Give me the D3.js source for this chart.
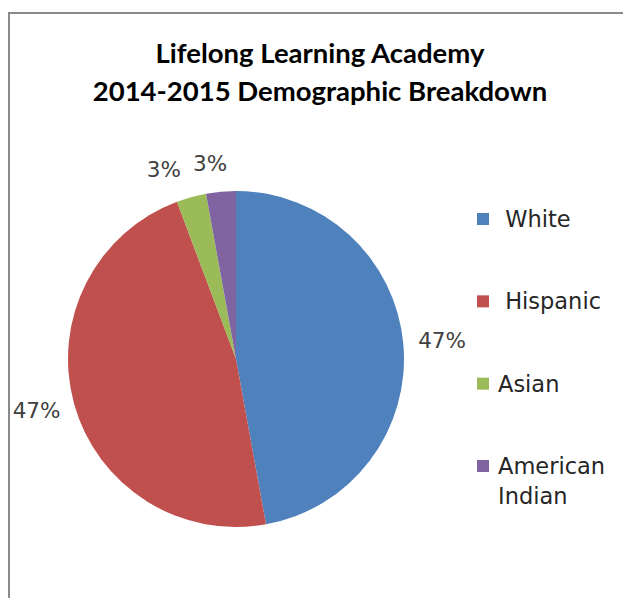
<!DOCTYPE html>
<html><head><meta charset="utf-8">
<script src="https://cdn.jsdelivr.net/npm/d3@7"></script>
<style>html,body{margin:0;padding:0;background:#fff;overflow:hidden}</style>
</head><body>
<svg id="c" width="623" height="598"></svg>
<script>
const titleLines = ["Lifelong Learning Academy", "2014-2015 Demographic Breakdown"];
const categories = [" White", " Hispanic", "Asian", "American Indian"];
const counts = [33, 33, 2, 2];
const colors = ["#4F81BD", "#C0504D", "#9BBB59", "#8064A2"];

const svg = d3.select("#c");
// chart frame
svg.append("rect").attr("x", 9).attr("y", 13).attr("width", 640).attr("height", 620)
  .attr("fill", "#fff").attr("stroke", "#8a8a8a").attr("stroke-width", 2);

// title
const title = svg.append("text").attr("text-anchor", "middle")
  .attr("font-family", "Lato, sans-serif").attr("font-weight", "bold")
  .attr("font-size", 27.5).attr("fill", "#000");
titleLines.forEach((t, i) => title.append("tspan").attr("x", 320).attr("y", 63 + i * 38).text(t));

// pie
const cx = 236, cy = 359, r = 168;
const total = d3.sum(counts);
const pie = d3.pie().sort(null).value(d => d)(counts);
const arc = d3.arc().innerRadius(0).outerRadius(r);
const g = svg.append("g").attr("transform", `translate(${cx},${cy})`);
g.selectAll("path").data(pie).join("path")
  .attr("d", arc).attr("fill", (d, i) => colors[i]);

// data labels (outside end)
const fmt = d3.format(".0%");
const labelNudge = [0, 0, -19, -8];
const lab = g.selectAll("text.lbl").data(pie).join("text").attr("class", "lbl")
  .attr("font-family", "'DejaVu Sans', sans-serif").attr("font-size", 21.5)
  .attr("fill", "#404040").attr("text-anchor", "middle").attr("dominant-baseline", "central")
  .text(d => fmt(d.value / total));
lab.each(function(d, i) {
  const bb = this.getBBox();
  const a = (d.startAngle + d.endAngle) / 2;
  const s = Math.sin(a), c = -Math.cos(a);
  const R = r + 15;
  const x = s * R + s * bb.width / 2 + labelNudge[i];
  const y = c * R + c * bb.height / 2 - 1;
  d3.select(this).attr("x", x).attr("y", y);
});

// legend
const leg = svg.append("g").attr("transform", "translate(477,0)");
const ly = d3.scalePoint().domain(d3.range(categories.length)).range([219, 466]);
categories.forEach((cat, i) => {
  const y = ly(i);
  leg.append("rect").attr("x", 0).attr("y", y - 6).attr("width", 12).attr("height", 12)
    .attr("fill", colors[i]);
  const words = cat.trim() === "American Indian" ? ["American", "Indian"] : [cat];
  const t = leg.append("text").attr("font-family", "'DejaVu Sans', sans-serif")
    .attr("font-size", 22.5).attr("fill", "#262626").style("white-space", "pre");
  words.forEach((w, k) => t.append("tspan").attr("x", 21).attr("y", y + 8 + k * 30).text(w));
});
</script>
</body></html>
